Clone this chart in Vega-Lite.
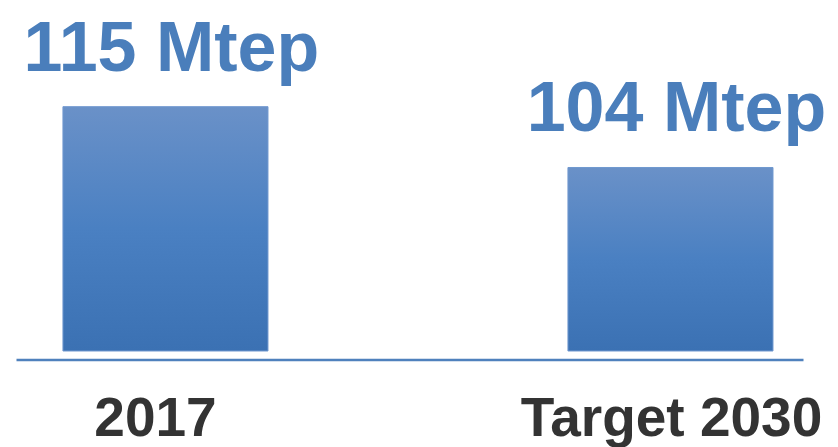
{
  "$schema": "https://vega.github.io/schema/vega-lite/v6.json",
  "autosize": "none",
  "padding": {"left": 16, "right": 35, "top": 0, "bottom": 96},
  "width": 787,
  "height": 351,
  "background": "white",
  "config": {"view": {"stroke": null}},
  "data": {"values": [
    {"category": "2017", "value": 115, "label": "115 Mtep"},
    {"category": "Target 2030", "value": 104, "label": "104 Mtep"}
  ]},
  "encoding": {
    "x": {
      "field": "category", "type": "nominal", "sort": null,
      "scale": {"paddingInner": 0.594, "paddingOuter": 0.0762, "align": 0.61},
      "axis": {
        "title": null, "labelAngle": 0, "ticks": false, "grid": false,
        "domainColor": "#4f81bd", "domainWidth": 2.5, "offset": 8.5,
        "labelFont": "Liberation Sans", "labelFontWeight": "bold", "labelFontSize": 55,
        "labelColor": "#333333", "labelPadding": 33, "labelBaseline": "top",
        "labelLimit": 0, "labelOverlap": false,
        "labelOffset": {"expr": "datum.value === '2017' ? -10 : 1"}
      }
    },
    "y": {
      "field": "value", "type": "quantitative",
      "scale": {"domain": [70.8, 134.3], "zero": false, "nice": false},
      "axis": null
    }
  },
  "layer": [
    {
      "mark": {
        "type": "bar", "stroke": "#7098cf", "strokeWidth": 1,
        "fill": {
          "gradient": "linear", "x1": 0, "y1": 0, "x2": 0, "y2": 1,
          "stops": [
            {"offset": 0, "color": "#6a91c8"},
            {"offset": 0.5, "color": "#4a80c2"},
            {"offset": 1, "color": "#3b71b3"}
          ]
        }
      },
      "encoding": {"y2": {"datum": 70.8}}
    },
    {
      "mark": {
        "type": "text", "baseline": "alphabetic", "dy": -36, "dx": 6,
        "font": "Liberation Sans", "fontWeight": "bold", "fontSize": 70, "fill": "#4a7ebb"
      },
      "encoding": {"text": {"field": "label"}}
    }
  ]
}
